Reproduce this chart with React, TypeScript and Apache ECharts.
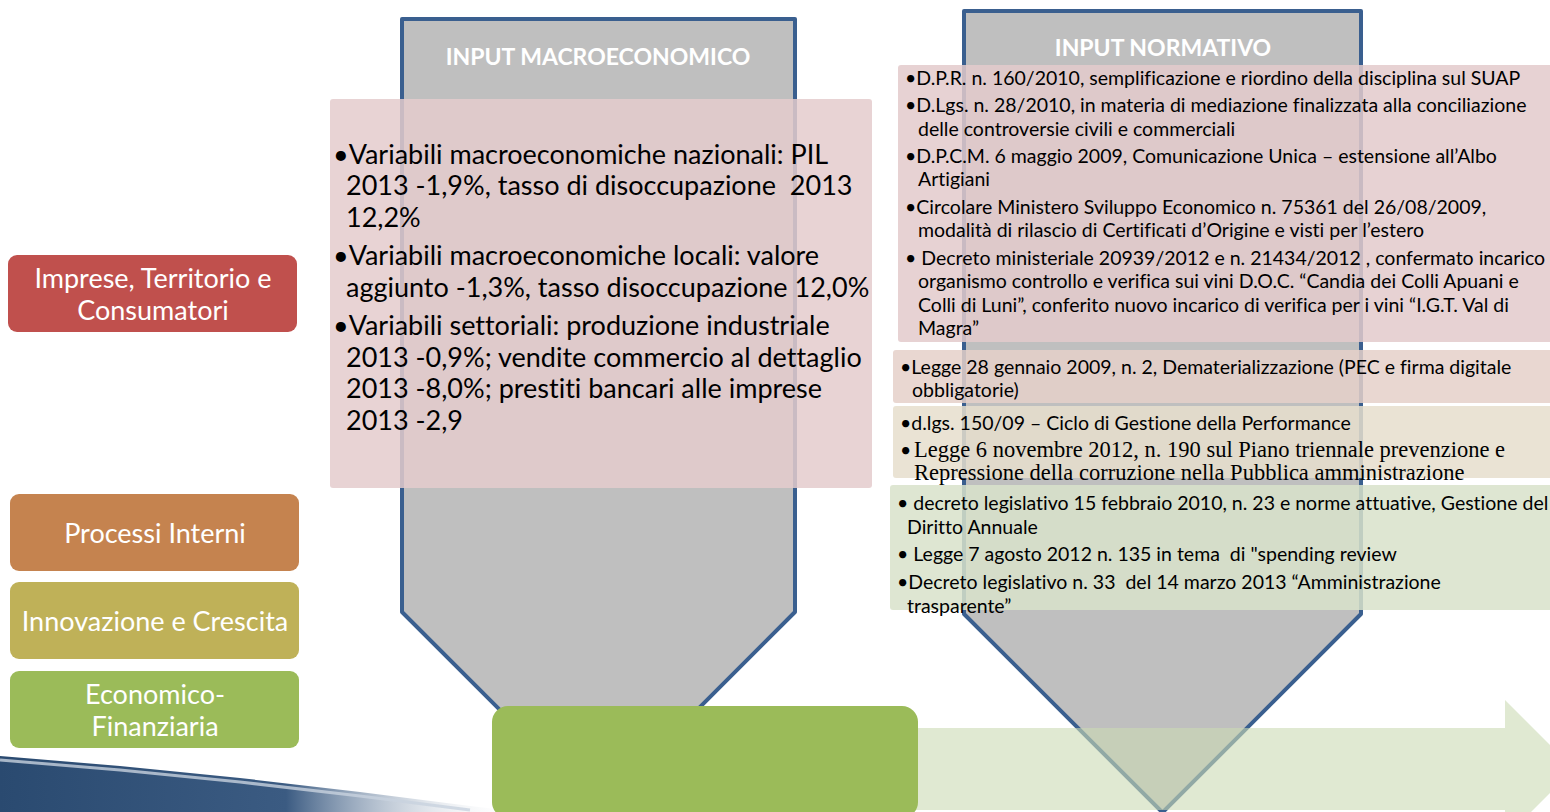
import React, { useEffect, useRef } from "react";
import * as echarts from "echarts";

const W = 1550;
const H = 812;

// Perspective labels (left column)
const perspectiveLabels = [
  ["Imprese, Territorio e", "Consumatori"],
  ["Processi Interni"],
  ["Innovazione e Crescita"],
  ["Economico-", "Finanziaria"],
];
const perspectiveColors = ["#C0504D", "#C5834F", "#BFB158", "#9BBB59"];
const perspectiveTops = [255, 494, 582, 671];

// Funnel headers
const funnelHeaders = ["INPUT MACROECONOMICO", "INPUT NORMATIVO"];

// Macroeconomic input text (lines as wrapped in the reference)
const macroLines = [
  { t: "•Variabili macroeconomiche nazionali: PIL", b: true, gap: 0 },
  { t: "2013 -1,9%, tasso di disoccupazione  2013", b: false, gap: 0 },
  { t: "12,2%", b: false, gap: 0 },
  { t: "•Variabili macroeconomiche locali: valore", b: true, gap: 7 },
  { t: "aggiunto -1,3%, tasso disoccupazione 12,0%", b: false, gap: 0 },
  { t: "•Variabili settoriali: produzione industriale", b: true, gap: 7 },
  { t: "2013 -0,9%; vendite commercio al dettaglio", b: false, gap: 0 },
  { t: "2013 -8,0%; prestiti bancari alle imprese", b: false, gap: 0 },
  { t: "2013 -2,9", b: false, gap: 0 },
];

// Normative input boxes
const normBox1 = [
  { t: "•D.P.R. n. 160/2010, semplificazione e riordino della disciplina sul SUAP", b: true, y: 77 },
  { t: "•D.Lgs. n. 28/2010, in materia di mediazione finalizzata alla conciliazione", b: true, y: 104 },
  { t: "delle controversie civili e commerciali", b: false, y: 128 },
  { t: "•D.P.C.M. 6 maggio 2009, Comunicazione Unica – estensione all’Albo", b: true, y: 155 },
  { t: "Artigiani", b: false, y: 178 },
  { t: "•Circolare Ministero Sviluppo Economico n. 75361 del 26/08/2009,", b: true, y: 206 },
  { t: "modalità di rilascio di Certificati d’Origine e visti per l’estero", b: false, y: 229 },
  { t: "• Decreto ministeriale 20939/2012 e n. 21434/2012 , confermato incarico", b: true, y: 257 },
  { t: "organismo controllo e verifica sui vini D.O.C. “Candia dei Colli Apuani e", b: false, y: 280 },
  { t: "Colli di Luni”, conferito nuovo incarico di verifica per i vini “I.G.T. Val di", b: false, y: 304 },
  { t: "Magra”", b: false, y: 327 },
];
const normBox2 = [
  { t: "•Legge 28 gennaio 2009, n. 2, Dematerializzazione (PEC e firma digitale", b: true, y: 366 },
  { t: "obbligatorie)", b: false, y: 389 },
];
const normBox3 = [
  { t: "•d.lgs. 150/09 – Ciclo di Gestione della Performance", b: true, y: 422, serif: false },
  { t: "•Legge 6 novembre 2012, n. 190 sul Piano triennale prevenzione e", b: true, y: 449, serif: true },
  { t: "Repressione della corruzione nella Pubblica amministrazione", b: false, y: 472, serif: true },
];
const normBox4 = [
  { t: "• decreto legislativo 15 febbraio 2010, n. 23 e norme attuative, Gestione del", b: true, y: 502 },
  { t: "Diritto Annuale", b: false, y: 526 },
  { t: "• Legge 7 agosto 2012 n. 135 in tema  di \"spending review", b: true, y: 553 },
  { t: "•Decreto legislativo n. 33  del 14 marzo 2013 “Amministrazione", b: true, y: 581 },
  { t: "trasparente”", b: false, y: 605 },
];

const SANS = "Lato, 'Open Sans', sans-serif";
const SERIF = "'Liberation Serif', 'DejaVu Serif', serif";

function funnel(x0: number, x1: number, top: number, shoulder: number): any {
  const cx = (x0 + x1) / 2;
  const tip = shoulder + (x1 - x0) / 2;
  return {
    type: "polygon",
    shape: { points: [[x0, top], [x1, top], [x1, shoulder], [cx, tip], [x0, shoulder]] },
    style: { fill: "#BFBFBF", stroke: "#3A5F8F", lineWidth: 4, lineJoin: "round" },
  };
}

function lineTexts(lines: any[], bulletX: number, textX: number, size: number): any[] {
  const out: any[] = [];
  lines.forEach((l) => {
    if (l.serif) {
      if (l.b) {
        out.push({
          type: "text", x: bulletX, y: l.y,
          style: { text: "•", font: `${size}px ${SANS}`, fill: "#000", textVerticalAlign: "middle", textAlign: "left" },
        });
      }
      out.push({
        type: "text", x: textX + 1, y: l.y,
        style: { text: l.b ? l.t.slice(1) : l.t, font: `22.5px ${SERIF}`, fill: "#000", textVerticalAlign: "middle", textAlign: "left" },
      });
    } else {
      out.push({
        type: "text",
        x: l.b ? bulletX : textX,
        y: l.y,
        style: { text: l.t, font: `${size}px ${SANS}`, fill: "#000", textVerticalAlign: "middle", textAlign: "left" },
      });
    }
  });
  return out;
}

export default function App() {
  const ref = useRef<HTMLDivElement>(null);
  useEffect(() => {
    if (!ref.current) return;
    const chart = echarts.init(ref.current, null, { renderer: "svg", width: W, height: H });
    const els: any[] = [];

    // bottom-left swoosh
    els.push({
      type: "polygon",
      shape: { points: [[0, 756], [120, 766], [240, 778], [360, 792], [470, 806], [520, 812], [0, 812]] },
      style: {
        fill: new echarts.graphic.LinearGradient(0, 0, 1, 0, [
          { offset: 0, color: "#2A4A70" },
          { offset: 0.55, color: "#3B5B82" },
          { offset: 1, color: "rgba(255,255,255,0)" },
        ]),
      },
    });
    els.push({
      type: "polyline",
      shape: { points: [[0, 760], [120, 770], [240, 782], [360, 796], [470, 810]] },
      style: { stroke: "rgba(200,210,222,0.8)", lineWidth: 3, fill: "none" },
    });

    // funnels
    els.push(funnel(402, 795, 19, 612));
    els.push(funnel(964, 1361, 11, 614));

    // headers
    els.push({
      type: "text", x: 598, y: 56,
      style: { text: funnelHeaders[0], font: `bold 23px ${SANS}`, fill: "#fff", textAlign: "center", textVerticalAlign: "middle" },
    });
    els.push({
      type: "text", x: 1163, y: 47,
      style: { text: funnelHeaders[1], font: `bold 23px ${SANS}`, fill: "#fff", textAlign: "center", textVerticalAlign: "middle" },
    });

    // macro pink box
    els.push({
      type: "rect",
      shape: { x: 330, y: 99, width: 542, height: 389, r: 3 },
      style: { fill: "rgba(228,203,204,0.85)" },
    });
    let yy = 153;
    macroLines.forEach((l, i) => {
      if (i > 0) yy += 31.5 + l.gap;
      els.push({
        type: "text", x: l.b ? 333 : 346, y: yy,
        style: { text: l.t, font: `27px ${SANS}`, fill: "#000", textAlign: "left", textVerticalAlign: "middle" },
      });
    });

    // normative boxes
    els.push({ type: "rect", shape: { x: 898, y: 65, width: 660, height: 277, r: 3 }, style: { fill: "rgba(227,202,203,0.85)" } });
    els.push({ type: "rect", shape: { x: 893, y: 350, width: 665, height: 53, r: 3 }, style: { fill: "rgba(229,208,201,0.85)" } });
    els.push({ type: "rect", shape: { x: 893, y: 406, width: 665, height: 72, r: 3 }, style: { fill: "rgba(230,222,204,0.85)" } });
    els.push({ type: "rect", shape: { x: 890, y: 485, width: 668, height: 125, r: 3 }, style: { fill: "rgba(216,226,202,0.85)" } });

    lineTexts(normBox1, 905, 918, 19.5).forEach((e) => els.push(e));
    lineTexts(normBox2, 900, 912, 19.5).forEach((e) => els.push(e));
    lineTexts(normBox3, 900, 913, 19.5).forEach((e) => els.push(e));
    lineTexts(normBox4, 897, 907, 19.5).forEach((e) => els.push(e));

    // perspective boxes
    perspectiveLabels.forEach((lines, i) => {
      const x = i === 0 ? 8 : 10;
      const top = perspectiveTops[i];
      els.push({
        type: "rect",
        shape: { x, y: top, width: 289, height: 77, r: 9 },
        style: { fill: perspectiveColors[i] },
      });
      const cy = top + 38.5;
      lines.forEach((t, j) => {
        els.push({
          type: "text", x: x + 145, y: cy + (j - (lines.length - 1) / 2) * 32,
          style: { text: t, font: `27px ${SANS}`, fill: "#fff", textAlign: "center", textVerticalAlign: "middle" },
        });
      });
    });

    // bottom arrow
    els.push({
      type: "polygon",
      shape: { points: [[905, 728], [1505, 728], [1505, 700], [1574, 769], [1505, 838], [1505, 810], [905, 810]] },
      style: { fill: "rgba(203,218,180,0.6)" },
    });

    // bottom green box
    els.push({
      type: "rect",
      shape: { x: 492, y: 706, width: 426, height: 112, r: 16 },
      style: { fill: "#9BBB59" },
    });

    chart.setOption({ animation: false, graphic: { elements: els } });
    return () => chart.dispose();
  }, []);
  return (
    <>
      <style>{"svg text { font-variant-ligatures: none !important; font-feature-settings: 'liga' 0, 'clig' 0, 'dlig' 0 !important; }"}</style>
      <div
        ref={ref}
        style={{ position: "fixed", left: 0, top: 0, width: W, height: H, background: "#fff" }}
      />
    </>
  );
}
